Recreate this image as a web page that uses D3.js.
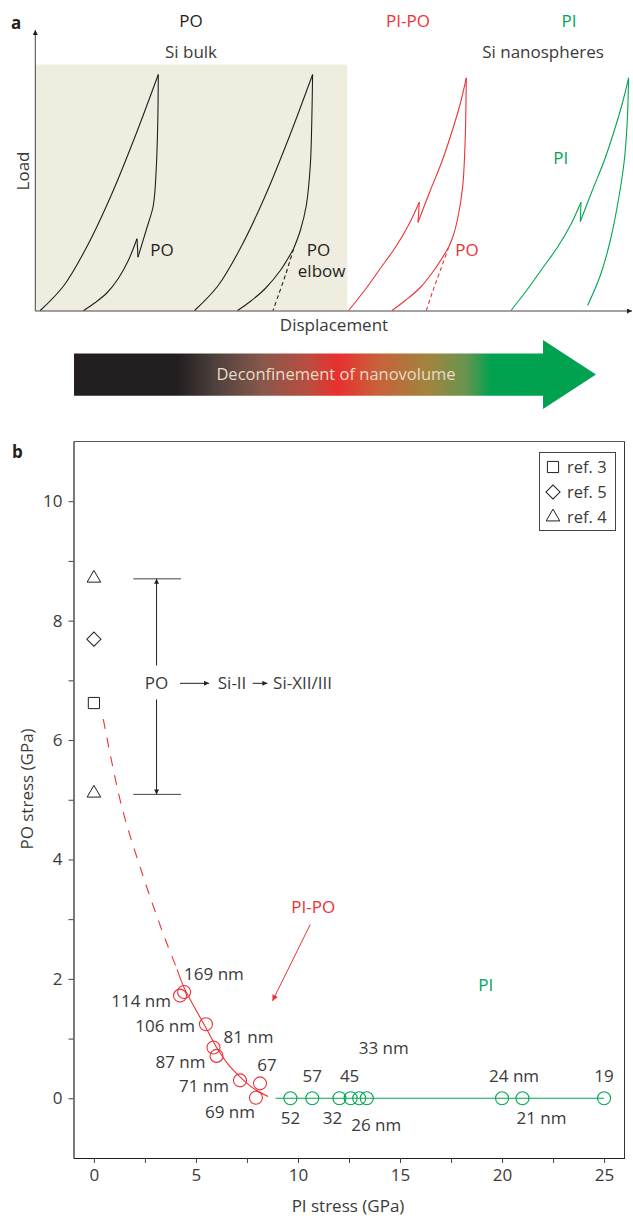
<!DOCTYPE html>
<html>
<head>
<meta charset="utf-8">
<script src="https://cdn.jsdelivr.net/npm/d3@7"></script>
<style>
  body { margin: 0; background: #fff; }
  svg text { font-family: "Open Sans", "Noto Sans", sans-serif; }
</style>
</head>
<body>
<script>
// ---------- panel a : schematic load-displacement curves (arbitrary units) ----------
const bulkRegion = [0, 312, 246];            // displacement from, to, load top
const bulkLoad1   = [[5,0],[28.6,25],[52.2,65],[75.8,115],[99.4,173],[123,236]];
const bulkUnload1 = [[123,236],[122.5,190],[121,143],[118,105],[111.7,83],[102.7,53.3]];
const bulkPop1    = [[102.7,53.3],[101.7,71.7]];
const bulkTail1   = [[101.7,71.7],[93,50],[83,32],[72,18],[60,8],[48.3,0]];

const bulkLoad2   = [[159.3,0],[182.9,25],[206.5,65],[230.1,115],[253.7,173],[277.3,236]];
const bulkUnload2 = [[277.3,236],[276.5,190],[275,145],[271,105],[265,80],[258.3,61.7]];
const bulkTail2   = [[258.3,61.7],[245,40],[230,22],[215,9],[202.3,0]];
const bulkDash2   = [[258.3,61.7],[250,35],[243,15],[237.7,0]];

const pipoLoadA   = [[313.3,0],[330,21],[345,42],[360,63],[373,85],[384,108.3]];
const pipoPop     = [[384,108.3],[382.7,88.3]];
const pipoLoadB   = [[382.7,88.3],[395,120],[407,150],[417,180],[425,207],[431,232.7]];
const pipoUnload  = [[431,232.7],[430.5,195],[429.5,160],[427.5,125],[423,95],[418,75],[413.3,63.3]];
const pipoTail    = [[413.3,63.3],[400,42],[385,23],[370,10],[356.7,0]];
const pipoDash    = [[413.3,63.3],[405,40],[397,18],[391,0]];

const piLoadA     = [[475.7,0],[492,21],[507,42],[522,63],[535,85],[545.7,108.3]];
const piPop       = [[545.7,108.3],[545,89]];
const piLoadB     = [[545,89],[557,120],[569,150],[579,180],[587,207],[593.3,232.7]];
const piUnload    = [[593.3,232.7],[592,190],[589,150],[583,110],[575,70],[565,35],[552.3,5]];

// ---------- panel b : PO stress vs PI stress ----------
const refSymbols = ["triangle", "diamond", "square", "triangle"];
const refPI      = [0, 0, 0, 0];
const refPO      = [8.71, 7.69, 6.62, 5.11];
const legendRefs = ["ref. 3", "ref. 5", "ref. 4"];
const legendSyms = ["square", "diamond", "triangle"];

const pipoPI     = [4.42, 4.22, 5.49, 5.86, 6.01, 7.16, 8.14, 7.94];
const pipoPO     = [1.78, 1.72, 1.24, 0.85, 0.71, 0.30, 0.25, 0.01];
const pipoSizes  = ["169 nm", "114 nm", "106 nm", "81 nm", "87 nm", "71 nm", "67", "69 nm"];

const piPI       = [9.63, 10.7, 12.03, 12.58, 13.0, 13.37, 20.0, 21.0, 25.0];
const piPO       = [0, 0, 0, 0, 0, 0, 0, 0, 0];
const piSizes    = ["52", "57", "32", "45", "26 nm", "33 nm", "24 nm", "21 nm", "19"];

const fitDashed  = [[0.46,6.35],[1.36,4.89],[2.43,3.70],[3.5,2.66],[4.08,2.16]];
const fitSolid   = [[4.08,2.16],[4.42,1.85],[5.0,1.48],[5.49,1.18],[6.0,0.86],[6.6,0.56],[7.16,0.36],[7.8,0.17],[8.54,0.03]];
const piLine     = [[8.9,0],[25,0]];

const xTicks = [0, 2.5, 5, 7.5, 10, 12.5, 15, 17.5, 20, 22.5, 25];
const yTicks = [0, 1, 2, 3, 4, 5, 6, 7, 8, 9, 10];

// label placement (pixels, relative to the point)
const pipoLabelPos = [
  { dx: 0,   dy: -12, anchor: "start" },
  { dx: -9,  dy: 11,  anchor: "end" },
  { dx: -11, dy: 8,   anchor: "end" },
  { dx: 10,  dy: -5,  anchor: "start" },
  { dx: -11, dy: 12,  anchor: "end" },
  { dx: -11, dy: 12,  anchor: "end" },
  { dx: 7,   dy: -12, anchor: "middle" },
  { dx: -1,  dy: 20,  anchor: "end" }
];
const piLabelPos = [
  { dx: 0,  dy: 26,  anchor: "middle" },
  { dx: 0,  dy: -16, anchor: "middle" },
  { dx: -7, dy: 26,  anchor: "middle" },
  { dx: -1, dy: -16, anchor: "middle" },
  { dx: -8, dy: 33,  anchor: "start" },
  { dx: -8, dy: -44, anchor: "start" },
  { dx: -13, dy: -16, anchor: "start" },
  { dx: -6, dy: 26,  anchor: "start" },
  { dx: 0,  dy: -16, anchor: "middle" }
];

const BLACK = "#231f20", RED = "#ed3237", GREEN = "#00a651", TEXT = "#3a3a3a";
const FS = 17;

const svg = d3.select("body")
    .append("svg")
    .attr("width", 633)
    .attr("height", 1216);

const defs = svg.append("defs");

function addMarker(id, color, w, h) {
    defs.append("marker")
        .attr("id", id)
        .attr("viewBox", "0 0 10 10")
        .attr("refX", 10)
        .attr("refY", 5)
        .attr("markerUnits", "userSpaceOnUse")
        .attr("markerWidth", w)
        .attr("markerHeight", h)
        .attr("orient", "auto-start-reverse")
        .append("path")
        .attr("d", "M0,0 L10,5 L0,10 Z")
        .attr("fill", color);
}
addMarker("arrBlack", BLACK, 7, 5);
addMarker("arrRed", RED, 8, 6);

// ================= panel a =================
const xA = d3.scaleLinear().domain([0, 595]).range([35.3, 630.3]);
const yA = d3.scaleLinear().domain([0, 280]).range([310.5, 30.5]);
const lineA = d3.line().x(d => xA(d[0])).y(d => yA(d[1])).curve(d3.curveCatmullRom.alpha(0.5));
const straightA = d3.line().x(d => xA(d[0])).y(d => yA(d[1]));

function drawPanelA() {
    const g = svg.append("g").attr("class", "panelA");

    g.append("rect")
        .attr("x", xA(bulkRegion[0]))
        .attr("y", yA(bulkRegion[2]))
        .attr("width", xA(bulkRegion[1]) - xA(bulkRegion[0]))
        .attr("height", yA(0) - yA(bulkRegion[2]))
        .attr("fill", "#eeeddf");

    // axes with arrow heads
    g.append("line")
        .attr("x1", xA(0)).attr("y1", yA(0) + 0.5)
        .attr("x2", xA(0)).attr("y2", 30)
        .attr("stroke", "#444").attr("stroke-width", 1)
        .attr("marker-end", "url(#arrBlack)");
    g.append("line")
        .attr("x1", xA(0)).attr("y1", yA(0) + 0.5)
        .attr("x2", 632).attr("y2", yA(0) + 0.5)
        .attr("stroke", "#444").attr("stroke-width", 1)
        .attr("marker-end", "url(#arrBlack)");

    const curves = [
        [bulkLoad1, BLACK, lineA], [bulkUnload1, BLACK, lineA], [bulkPop1, BLACK, straightA], [bulkTail1, BLACK, lineA],
        [bulkLoad2, BLACK, lineA], [bulkUnload2, BLACK, lineA], [bulkTail2, BLACK, lineA],
        [pipoLoadA, RED, lineA], [pipoPop, RED, straightA], [pipoLoadB, RED, lineA], [pipoUnload, RED, lineA], [pipoTail, RED, lineA],
        [piLoadA, GREEN, lineA], [piPop, GREEN, straightA], [piLoadB, GREEN, lineA], [piUnload, GREEN, lineA]
    ];
    curves.forEach(c => {
        g.append("path")
            .attr("d", c[2](c[0]))
            .attr("fill", "none")
            .attr("stroke", c[1])
            .attr("stroke-width", 1.1);
    });
    [[bulkDash2, BLACK], [pipoDash, RED]].forEach(c => {
        g.append("path")
            .attr("d", lineA(c[0]))
            .attr("fill", "none")
            .attr("stroke", c[1])
            .attr("stroke-width", 1.1)
            .attr("stroke-dasharray", "4,3");
    });

    const txt = (x, y, s, color, anchor) => g.append("text")
        .attr("x", x).attr("y", y)
        .attr("text-anchor", anchor || "middle")
        .attr("font-size", FS)
        .attr("fill", color)
        .text(s);

    txt(191, 27, "PO", BLACK);
    txt(191, 58, "Si bulk", TEXT);
    txt(408, 27, "PI-PO", RED);
    txt(569, 27, "PI", GREEN);
    txt(543, 58, "Si nanospheres", TEXT);

    txt(xA(115), yA(55), "PO", BLACK, "start");
    txt(xA(271.5), yA(55), "PO", BLACK, "start");
    txt(xA(262.5), yA(33.5), "elbow", BLACK, "start");
    txt(xA(420), yA(55), "PO", RED, "start");
    txt(xA(518), yA(147), "PI", GREEN, "start");

    txt(334, 331, "Displacement", TEXT);
    g.append("text")
        .attr("transform", "translate(29,171) rotate(-90)")
        .attr("text-anchor", "middle")
        .attr("font-size", FS)
        .attr("fill", TEXT)
        .text("Load");

    svg.append("text")
        .attr("x", 11).attr("y", 29)
        .attr("font-size", 17).attr("font-weight", "bold")
        .attr("fill", BLACK)
        .text("a");
}

// ================= gradient arrow =================
function drawArrow() {
    const grad = defs.append("linearGradient")
        .attr("id", "deconf")
        .attr("gradientUnits", "userSpaceOnUse")
        .attr("x1", 74).attr("x2", 596).attr("y1", 0).attr("y2", 0);
    const stops = [
        [0, "#231f20"], [0.2, "#231f20"], [0.27, "#4e403d"], [0.36, "#87584b"],
        [0.45, "#bb4c40"], [0.505, "#e8302f"], [0.58, "#c9603a"], [0.68, "#a0853f"],
        [0.75, "#68944f"], [0.8, "#00a14f"], [1, "#00a14f"]
    ];
    grad.selectAll("stop").data(stops).enter().append("stop")
        .attr("offset", d => d[0])
        .attr("stop-color", d => d[1]);

    const pts = [[74,353.5],[543,353.5],[543,340],[596,374.5],[543,409],[543,395.7],[74,395.7]];
    svg.append("polygon")
        .attr("points", pts.map(p => p.join(",")).join(" "))
        .attr("fill", "url(#deconf)");

    svg.append("text")
        .attr("x", 336).attr("y", 380)
        .attr("text-anchor", "middle")
        .attr("font-size", 16.5)
        .attr("fill", "#e8dcc6")
        .text("Deconfinement of nanovolume");
}

// ================= panel b =================
const xB = d3.scaleLinear().domain([-1, 26]).range([73.5, 624.5]);
const yB = d3.scaleLinear().domain([-1, 11]).range([1158, 441.5]);

function symbolPath(name) {
    if (name === "square") return d3.symbol().type(d3.symbolSquare).size(125)();
    if (name === "diamond") return d3.symbol().type(d3.symbolSquare).size(100)();
    return d3.symbol().type(d3.symbolTriangle).size(80)();
}
function symbolRotate(name) { return name === "diamond" ? " rotate(45)" : ""; }

function drawPanelB() {
    const g = svg.append("g").attr("class", "panelB");

    // frame top / right
    g.append("line")
        .attr("x1", xB(-1)).attr("x2", xB(26)).attr("y1", yB(11)).attr("y2", yB(11))
        .attr("stroke", "#555").attr("stroke-width", 1);
    g.append("line")
        .attr("x1", xB(26)).attr("x2", xB(26)).attr("y1", yB(11)).attr("y2", yB(-1))
        .attr("stroke", "#333").attr("stroke-width", 1);

    const xAxis = d3.axisBottom(xB)
        .tickValues(xTicks)
        .tickSize(5)
        .tickSizeOuter(0)
        .tickPadding(6)
        .tickFormat(d => d % 5 === 0 ? d : "");
    const yAxis = d3.axisLeft(yB)
        .tickValues(yTicks)
        .tickSize(5)
        .tickSizeOuter(0)
        .tickPadding(6)
        .tickFormat(d => d % 2 === 0 ? d : "");

    const xg = g.append("g")
        .attr("transform", "translate(0," + yB(-1) + ")")
        .call(xAxis);
    const yg = g.append("g")
        .attr("transform", "translate(" + xB(-1) + ",0)")
        .call(yAxis);
    [xg, yg].forEach(a => {
        a.select(".domain").attr("stroke", BLACK).attr("stroke-width", 1.2);
        a.selectAll(".tick line").attr("stroke", "#444");
        a.selectAll(".tick text")
            .attr("font-size", FS)
            .attr("fill", TEXT)
            .attr("font-family", "'Open Sans', sans-serif");
    });

    g.append("text")
        .attr("x", 348).attr("y", 1212)
        .attr("text-anchor", "middle")
        .attr("font-size", FS).attr("fill", TEXT)
        .text("PI stress (GPa)");
    g.append("text")
        .attr("transform", "translate(33,789) rotate(-90)")
        .attr("text-anchor", "middle")
        .attr("font-size", FS).attr("fill", TEXT)
        .text("PO stress (GPa)");

    // PO bar annotation
    const barX = 3.07, barTop = 8.7, barBot = 5.09;
    [barTop, barBot].forEach(v => {
        g.append("line")
            .attr("x1", xB(1.93)).attr("x2", xB(4.27))
            .attr("y1", yB(v)).attr("y2", yB(v))
            .attr("stroke", "#444").attr("stroke-width", 1);
    });
    g.append("line")
        .attr("x1", xB(barX)).attr("x2", xB(barX))
        .attr("y1", yB(7.25)).attr("y2", yB(barTop))
        .attr("stroke", BLACK).attr("stroke-width", 1)
        .attr("marker-end", "url(#arrBlack)");
    g.append("line")
        .attr("x1", xB(barX)).attr("x2", xB(barX))
        .attr("y1", yB(6.68)).attr("y2", yB(barBot))
        .attr("stroke", BLACK).attr("stroke-width", 1)
        .attr("marker-end", "url(#arrBlack)");
    g.append("text")
        .attr("x", xB(barX)).attr("y", yB(6.95) + 6)
        .attr("text-anchor", "middle")
        .attr("font-size", FS).attr("fill", TEXT)
        .text("PO");
    g.append("line")
        .attr("x1", xB(4.22)).attr("x2", xB(5.64))
        .attr("y1", yB(6.95)).attr("y2", yB(6.95))
        .attr("stroke", BLACK).attr("stroke-width", 1)
        .attr("marker-end", "url(#arrBlack)");
    g.append("text")
        .attr("x", xB(6.07)).attr("y", yB(6.95) + 6)
        .attr("font-size", FS).attr("fill", TEXT)
        .text("Si-II");
    g.append("line")
        .attr("x1", xB(7.78)).attr("x2", xB(8.5))
        .attr("y1", yB(6.95)).attr("y2", yB(6.95))
        .attr("stroke", BLACK).attr("stroke-width", 1)
        .attr("marker-end", "url(#arrBlack)");
    g.append("text")
        .attr("x", xB(8.78)).attr("y", yB(6.95) + 6)
        .attr("font-size", FS).attr("fill", TEXT)
        .text("Si-XII/III");

    // literature values at zero PI stress
    g.selectAll(".ref")
        .data(refPO)
        .enter()
        .append("path")
        .attr("class", "ref")
        .attr("transform", (d, i) => "translate(" + xB(refPI[i]) + "," + yB(d) + ")" + symbolRotate(refSymbols[i]))
        .attr("d", (d, i) => symbolPath(refSymbols[i]))
        .attr("fill", "none")
        .attr("stroke", BLACK)
        .attr("stroke-width", 1);

    // fitted trend lines
    const lineB = d3.line().x(d => xB(d[0])).y(d => yB(d[1])).curve(d3.curveCatmullRom.alpha(0.5));
    g.append("path")
        .attr("d", lineB(fitDashed))
        .attr("fill", "none").attr("stroke", RED).attr("stroke-width", 1.1)
        .attr("stroke-dasharray", "10,9");
    g.append("path")
        .attr("d", lineB(fitSolid))
        .attr("fill", "none").attr("stroke", RED).attr("stroke-width", 1.1);
    g.append("path")
        .attr("d", lineB(piLine))
        .attr("fill", "none").attr("stroke", GREEN).attr("stroke-width", 1.1);

    // PI-PO circles
    g.selectAll(".pipo")
        .data(pipoPI)
        .enter()
        .append("circle")
        .attr("class", "pipo")
        .attr("cx", d => xB(d))
        .attr("cy", (d, i) => yB(pipoPO[i]))
        .attr("r", 6.5)
        .attr("fill", "none")
        .attr("stroke", RED)
        .attr("stroke-width", 1.1);
    g.selectAll(".pipoLabel")
        .data(pipoSizes)
        .enter()
        .append("text")
        .attr("class", "pipoLabel")
        .attr("x", (d, i) => xB(pipoPI[i]) + pipoLabelPos[i].dx)
        .attr("y", (d, i) => yB(pipoPO[i]) + pipoLabelPos[i].dy)
        .attr("text-anchor", (d, i) => pipoLabelPos[i].anchor)
        .attr("font-size", FS)
        .attr("fill", TEXT)
        .text(d => d);

    // PI circles
    g.selectAll(".pi")
        .data(piPI)
        .enter()
        .append("circle")
        .attr("class", "pi")
        .attr("cx", d => xB(d))
        .attr("cy", (d, i) => yB(piPO[i]))
        .attr("r", 6.5)
        .attr("fill", "none")
        .attr("stroke", GREEN)
        .attr("stroke-width", 1.1);
    g.selectAll(".piLabel")
        .data(piSizes)
        .enter()
        .append("text")
        .attr("class", "piLabel")
        .attr("x", (d, i) => xB(piPI[i]) + piLabelPos[i].dx)
        .attr("y", (d, i) => yB(piPO[i]) + piLabelPos[i].dy)
        .attr("text-anchor", (d, i) => piLabelPos[i].anchor)
        .attr("font-size", FS)
        .attr("fill", TEXT)
        .text(d => d);

    // regime labels
    g.append("text")
        .attr("x", xB(10.75)).attr("y", yB(3.1))
        .attr("text-anchor", "middle")
        .attr("font-size", FS).attr("fill", RED)
        .text("PI-PO");
    g.append("line")
        .attr("x1", xB(10.6)).attr("y1", yB(2.91))
        .attr("x2", xB(8.75)).attr("y2", yB(1.63))
        .attr("stroke", RED).attr("stroke-width", 1)
        .attr("marker-end", "url(#arrRed)");
    g.append("text")
        .attr("x", xB(19.2)).attr("y", yB(1.79))
        .attr("text-anchor", "middle")
        .attr("font-size", FS).attr("fill", GREEN)
        .text("PI");

    // legend
    const lg = g.append("g").attr("transform", "translate(539.5,452.5)");
    lg.append("rect")
        .attr("width", 76).attr("height", 78)
        .attr("fill", "#fff").attr("stroke", "#444").attr("stroke-width", 1);
    legendRefs.forEach((r, i) => {
        lg.append("path")
            .attr("transform", "translate(13.5," + (14.5 + i * 25) + ")" + symbolRotate(legendSyms[i]))
            .attr("d", symbolPath(legendSyms[i]))
            .attr("fill", "none").attr("stroke", BLACK).attr("stroke-width", 1);
        lg.append("text")
            .attr("x", 27.5).attr("y", 20.5 + i * 25)
            .attr("font-size", 16.5).attr("fill", TEXT)
            .text(r);
    });

    svg.append("text")
        .attr("x", 12).attr("y", 458)
        .attr("font-size", 17).attr("font-weight", "bold")
        .attr("fill", BLACK)
        .text("b");
}

drawPanelA();
drawArrow();
drawPanelB();
</script>
</body>
</html>
